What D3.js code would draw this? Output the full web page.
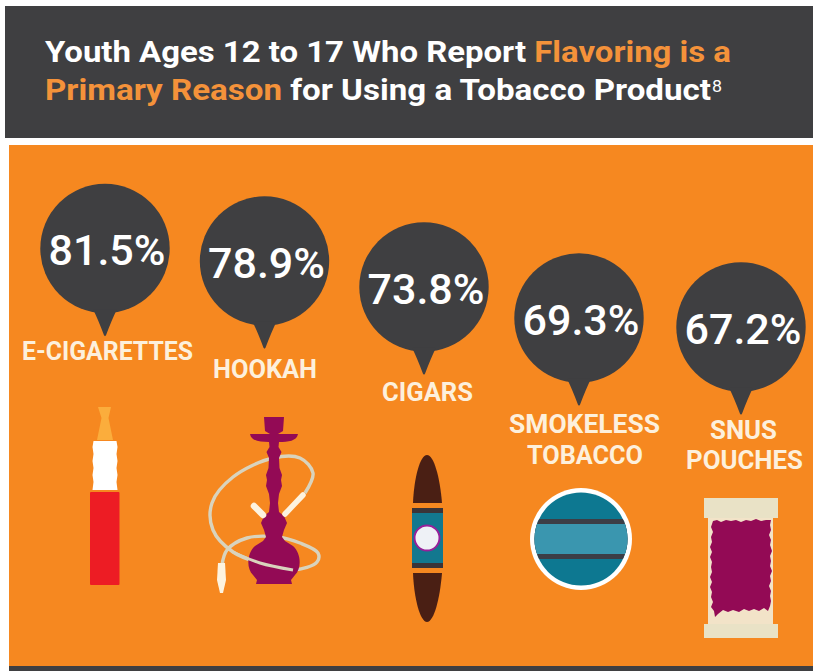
<!DOCTYPE html>
<html>
<head>
<meta charset="utf-8">
<script src="https://cdn.jsdelivr.net/npm/d3@7/dist/d3.min.js"></script>
<style>
html,body{margin:0;padding:0;background:#fff;overflow:hidden}
svg{display:block}
text{font-family:Roboto,"Open Sans",sans-serif}
</style>
</head>
<body>
<svg id="chart" width="813" height="671"></svg>
<script>
// Survey results
const products = ["E-CIGARETTES", "HOOKAH", "CIGARS", "SMOKELESS TOBACCO", "SNUS POUCHES"];
const shares = [81.5, 78.9, 73.8, 69.3, 67.2];
const labelLines = [["E-CIGARETTES"], ["HOOKAH"], ["CIGARS"], ["SMOKELESS", "TOBACCO"], ["SNUS", "POUCHES"]];
const titleLineOne = [["Youth Ages 12 to 17 Who Report ", "w"], ["Flavoring is a", "o"]];
const titleLineTwo = [["Primary Reason", "o"], [" for Using a Tobacco Product", "w"]];
const footnote = "8";

const DARK = "#3f3f41", ORANGE = "#f68820", CREAM = "#fdf0dc", MAROON = "#930a55";
const svg = d3.select("#chart");

// Panels
svg.append("rect").attr("x", 5).attr("y", 6).attr("width", 808).attr("height", 132).attr("fill", DARK);
svg.append("rect").attr("x", 9).attr("y", 145).attr("width", 804).attr("height", 521).attr("fill", ORANGE);
svg.append("rect").attr("x", 9).attr("y", 666).attr("width", 804).attr("height", 5).attr("fill", DARK);

// Two-line heading with highlighted words
const titleColor = k => k === "o" ? "#f4923a" : "#ffffff";
[[titleLineOne, 62, 686], [titleLineTwo, 100, 666]].forEach(([parts, y, len]) => {
  const t = svg.append("text").attr("x", 45).attr("y", y)
    .attr("font-size", 29).attr("font-weight", 700)
    .attr("textLength", len).attr("lengthAdjust", "spacingAndGlyphs")
    .attr("xml:space", "preserve").style("white-space", "pre");
  parts.forEach(([s, k]) => t.append("tspan").attr("fill", titleColor(k)).text(s));
});
svg.append("text").attr("x", 712).attr("y", 92).attr("font-size", 16).attr("fill", "#fff")
  .attr("textLength", 10).attr("lengthAdjust", "spacingAndGlyphs").text(footnote);

// Bubbles step down the panel as the share falls
const x = d3.scaleOrdinal(products, [105, 264.5, 424, 579, 741]);
const y = d3.scaleLinear().domain(shares).range([248.5, 261, 287, 318, 327]);
const R = 64.7;

const bubbles = svg.selectAll("g.bubble")
  .data(shares.map((v, i) => ({ v, name: products[i], lines: labelLines[i] })))
  .join("g").attr("class", "bubble")
  .attr("transform", d => `translate(${x(d.name)},${y(d.v)})`);

bubbles.append("circle").attr("r", R).attr("fill", DARK);
bubbles.append("path").attr("fill", DARK)
  .attr("d", `M-12,${R - 4}L12,${R - 4}Q7,${R + 6} 1,${R + 22}L0,${R + 23}L-1,${R + 22}Q-7,${R + 6} -12,${R - 4}Z`);
bubbles.append("text")
  .attr("text-anchor", "middle").attr("y", 16.5).attr("x", 2)
  .attr("font-size", 42).attr("font-weight", 500).attr("fill", "#fff")
  .attr("textLength", 117).attr("lengthAdjust", "spacingAndGlyphs")
  .text(d => d3.format(".1f")(d.v) + "%");

// Product captions: centre, baseline and drawn width of each line
const captionLayout = {
  "E-CIGARETTES": [[107.5, 360, 171]],
  "HOOKAH": [[265, 378, 104]],
  "CIGARS": [[427.5, 401, 91]],
  "SMOKELESS TOBACCO": [[584.5, 433, 151], [585, 464, 116]],
  "SNUS POUCHES": [[743.5, 439, 67], [744.5, 469, 117]]
};
products.forEach((name, i) => {
  labelLines[i].forEach((text, j) => {
    const [cx, base, width] = captionLayout[name][j];
    svg.append("text").attr("x", cx).attr("y", base)
      .attr("text-anchor", "middle").attr("font-size", 25.5).attr("font-weight", 700)
      .attr("fill", CREAM).attr("textLength", width)
      .attr("lengthAdjust", "spacingAndGlyphs")
      .text(text);
  });
});

// --- Product icons ---
const icons = svg.append("g");
const hoseLine = d3.line().curve(d3.curveCatmullRom.alpha(0.5));

// E-cigarette
icons.append("path").attr("fill", "#fbad3c").attr("d", "M98,407L111,407L108.5,418L113,440L97,440L101.5,418Z");
icons.append("path").attr("fill", "#ffffff").attr("d",
  "M93.5,441L116.5,441L117.5,447L116.5,454L117.5,461L116.5,468L117.5,475L116.5,482L117.5,490L92.5,490L93.5,482L92.5,475L93.5,468L92.5,461L93.5,454L92.5,447Z");
icons.append("rect").attr("x", 90).attr("y", 492).attr("width", 29.5).attr("height", 93).attr("rx", 1).attr("fill", "#ed1c24");

// Hookah: one long hose looping behind the body, with its front stretch redrawn over it
const hosePath = [[305,493],[313,473],[300,458],[273,458],[233,477],[212,503],[213,530],[233,552],[260,563],[293,570],[317,562],[318,553],[300,543],[277,537],[247,538],[227,550],[222,565]];
const hoseFront = [[233,552],[260,563],[293,570]];
icons.append("path").attr("fill", "none").attr("stroke", "#d9d3bd").attr("stroke-width", 3.4).attr("d", hoseLine(hosePath));
icons.append("path").attr("fill", MAROON).attr("d",
  "M264,417L284,417L283,431L278,434L298,434C297,441 288,442 279,442L278.5,447L281.5,452L279,458L279.5,468L282,475L281,480L282,486L279,494L278,503L279,512L284,516L287,523L284,530L282,537L285,541L293,546C301,553 302,568 295,575L291,580L292,584L256,584L257,580L253,575C246,568 247,553 255,546L263,541L266,537L264,530L261,523L264,516L269,512L270,503L269,494L266,486L267,480L266,475L268.5,468L269,458L266.5,452L269.5,447L269,442C260,442 251,441 250,434L270,434L265,431Z");
icons.append("path").attr("fill", "none").attr("stroke", "#d9d3bd").attr("stroke-width", 3)
  .attr("d", hoseLine(hoseFront));
icons.append("path").attr("fill", "none").attr("stroke", "#fdf3df").attr("stroke-width", 6.5).attr("stroke-linecap", "round")
  .attr("d", "M254,506L263,515");
icons.append("path").attr("fill", "none").attr("stroke", "#fdf3df").attr("stroke-width", 5.5).attr("stroke-linecap", "round")
  .attr("d", "M285,514L303,495");
icons.append("path").attr("fill", "#fdf3df").attr("d", "M218,563L225,563L226,580L223,593L220,593L217,580Z");

// Cigar
icons.append("path").attr("fill", "#4a1f14").attr("d", "M413,503C414,478 420,455 427,455C434,455 440,478 442,503Z");
icons.append("path").attr("fill", "#4a1f14").attr("d", "M413,573C414,598 420,622 427,622C434,622 440,598 442,573Z");
icons.append("rect").attr("x", 412).attr("y", 508).attr("width", 31).attr("height", 60).attr("fill", "#3a3438");
icons.append("rect").attr("x", 412).attr("y", 513).attr("width", 31).attr("height", 50).attr("fill", "#12788f");
icons.append("circle").attr("cx", 427).attr("cy", 538).attr("r", 12.5).attr("fill", "#eef1f6").attr("stroke", "#96209a").attr("stroke-width", 2);

// Smokeless tobacco tin
const clip = svg.append("clipPath").attr("id", "tin");
clip.append("circle").attr("cx", 581).attr("cy", 539).attr("r", 46.5);
icons.append("circle").attr("cx", 581).attr("cy", 539).attr("r", 51).attr("fill", "#fff");
const tin = icons.append("g").attr("clip-path", "url(#tin)");
tin.append("rect").attr("x", 530).attr("y", 490).attr("width", 102).attr("height", 100).attr("fill", "#0d7891");
tin.append("rect").attr("x", 530).attr("y", 519).attr("width", 102).attr("height", 40).attr("fill", "#3c3e46");
tin.append("rect").attr("x", 530).attr("y", 524).attr("width", 102).attr("height", 30).attr("fill", "#3a96af");

// Snus pouch
icons.append("rect").attr("x", 708).attr("y", 500).attr("width", 65).attr("height", 136).attr("fill", "#f2e3c8");
icons.append("rect").attr("x", 704).attr("y", 498).attr("width", 74).attr("height", 20).attr("fill", "#e9e2c6");
icons.append("rect").attr("x", 704).attr("y", 624).attr("width", 74).attr("height", 14).attr("fill", "#e9e2c6");
icons.append("path").attr("fill", MAROON).attr("d",
  "M713,521L717,520L721,522L726,520L731,521L736,520L741,522L746,520L751,521L756,519L761,521L766,520L771,520L770,525L771,530L769,535L771,540L770,545L772,551L770,556L771,561L770,566L772,571L770,576L771,581L769,586L771,591L770,596L771,601L770,606L768,611L764,608L759,611L754,609L749,611L744,609L739,612L733,610L728,612L723,610L718,614L715,617L714,611L711,607L713,602L711,597L712,592L710,587L712,582L710,577L712,572L711,567L712,562L710,557L712,552L710,547L712,542L711,537L713,532L711,527Z");
</script>
</body>
</html>
